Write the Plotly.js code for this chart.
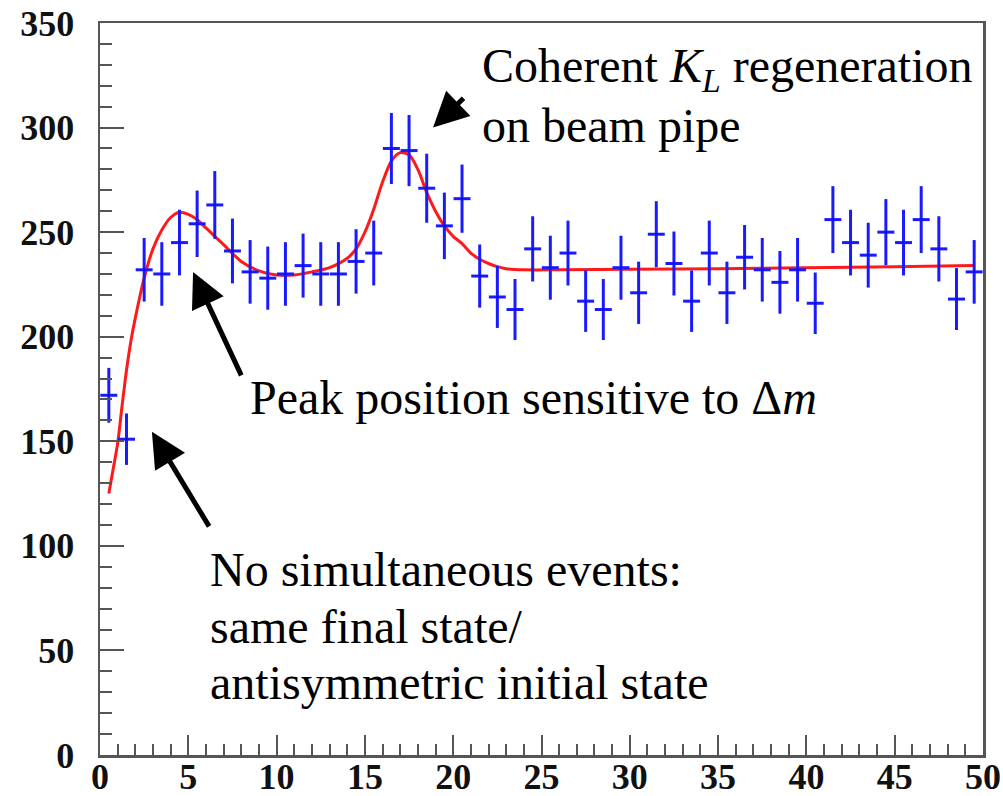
<!DOCTYPE html>
<html>
<head>
<meta charset="utf-8">
<script src="https://cdn.plot.ly/plotly-3.0.1.min.js"></script>
<style>html,body{margin:0;padding:0;background:#fff;}#chart{width:1003px;height:796px;}</style>
</head>
<body>
<div id="chart"></div>
<script>
// Bin centres (time difference bins)
var binCenters = [0.5,1.5,2.5,3.5,4.5,5.5,6.5,7.5,8.5,9.5,10.5,11.5,12.5,13.5,14.5,15.5,16.5,17.5,18.5,19.5,
  20.5,21.5,22.5,23.5,24.5,25.5,26.5,27.5,28.5,29.5,30.5,31.5,32.5,33.5,34.5,35.5,36.5,37.5,38.5,39.5,
  40.5,41.5,42.5,43.5,44.5,45.5,46.5,47.5,48.5,49.5];
// Event counts per bin
var counts = [172,151,232,230,245,254,263,241,231,228,230,234,230,230,236,240,290,289,271,253,
  266,229,219,213,242,233,240,217,213,233,221,249,235,217,240,221,238,232,226,232,
  216,256,245,239,250,245,256,242,218,231];
// Vertical error bars
var countErrors = [13.1,12.3,15.2,15.2,15.7,15.9,16.2,15.5,15.2,15.1,15.2,15.3,15.2,15.2,15.4,15.5,17.0,17.0,16.5,15.9,
  16.3,15.1,14.8,14.6,15.6,15.3,15.5,14.7,14.6,15.3,14.9,15.8,15.3,14.7,15.5,14.9,15.4,15.2,15.0,15.2,
  14.7,16.0,15.7,15.5,15.8,15.7,16.0,15.6,14.8,15.2];
// Fit curve
var fitX = [0.5,0.75,1,1.25,1.5,1.75,2,2.5,3,3.5,4,4.5,5,5.5,6,7,8,9,10,11,12,13,14,14.5,15,15.5,16,16.5,17,17.5,18,18.5,19,19.5,20,20.5,21,21.5,22,22.5,23,24,26,30,35,40,45,49.5];
var fitY = [125,137,149,167,184,198,209,228,242,251,257,259.5,258.5,256,252,244,236,231.5,229.5,229.5,231,233,237.5,242,250,261,274,284,288,287,280,269,260,253,248,244.5,240,237,235,233.5,232.5,232,232,232.3,232.5,233,233.5,234];
var xTickVals = [0,5,10,15,20,25,30,35,40,45,50];
var yTickVals = [0,50,100,150,200,250,300,350];

var dataTrace = {
  x: binCenters, y: counts, type: 'scatter', mode: 'markers',
  marker: {size: 2, color: '#0000ff'},
  error_x: {type: 'constant', value: 0.48, width: 0, thickness: 3, color: '#1a1aff'},
  error_y: {type: 'data', array: countErrors, visible: true, width: 0, thickness: 3, color: '#1a1aff'},
  hoverinfo: 'skip', showlegend: false
};
var fitTrace = {
  x: fitX, y: fitY, type: 'scatter', mode: 'lines',
  line: {color: '#ff1a1a', width: 3, shape: 'spline', smoothing: 0.8},
  hoverinfo: 'skip', showlegend: false
};

function txt(t, x, y) {
  return {text: t, x: x, y: y, xref: 'x', yref: 'y', showarrow: false, xanchor: 'left', yanchor: 'middle',
    font: {family: 'Liberation Serif', size: 48, color: '#000'}};
}
function arr(x, y, ax, ay) {
  return {text: '', x: x, y: y, ax: ax, ay: ay, xref: 'x', yref: 'y', axref: 'x', ayref: 'y',
    showarrow: true, arrowhead: 2, arrowsize: 1.4, arrowwidth: 5, arrowcolor: '#000', standoff: 0, startstandoff: 0};
}

var layout = {
  width: 1003, height: 796,
  margin: {l: 100, r: 20, t: 23, b: 41},
  paper_bgcolor: '#fff', plot_bgcolor: '#fff',
  showlegend: false,
  xaxis: {
    range: [0, 50], tickvals: xTickVals, ticktext: xTickVals.map(String),
    ticks: 'inside', ticklen: 20, tickwidth: 2, tickcolor: '#555',
    minor: {dtick: 1, ticks: 'inside', ticklen: 11, tickwidth: 2, tickcolor: '#555', showgrid: false},
    showgrid: false, zeroline: false,
    showline: true, linecolor: '#555', linewidth: 2.5, mirror: true,
    tickfont: {family: 'Liberation Serif', size: 36, color: '#111', weight: 'bold'},
    ticklabelstandoff: -12
  },
  yaxis: {
    range: [0, 350], tickvals: yTickVals, ticktext: yTickVals.map(String),
    ticks: 'inside', ticklen: 24, tickwidth: 2, tickcolor: '#555',
    minor: {dtick: 10, ticks: 'inside', ticklen: 12, tickwidth: 2, tickcolor: '#555', showgrid: false},
    showgrid: false, zeroline: false,
    showline: true, linecolor: '#555', linewidth: 2.5, mirror: true,
    tickfont: {family: 'Liberation Serif', size: 36, color: '#111', weight: 'bold'},
    ticklabelstandoff: 16
  },
  annotations: [
    txt('Coherent <i>K</i><sub><i>L</i></sub> regeneration', 21.5, 328),
    txt('on beam pipe', 21.5, 301),
    txt('Peak position sensitive to Δ<i>m</i>', 8.4, 171),
    txt('No simultaneous events:', 6.1, 88.5),
    txt('same final state/', 6.1, 61.5),
    txt('antisymmetric initial state', 6.1, 34.5),
    arr(18.86, 300, 20.67, 314.7),
    arr(5.27, 231, 8.04, 180.8),
    arr(2.94, 154.5, 6.23, 108.6)
  ]
};
Plotly.newPlot('chart', [fitTrace, dataTrace], layout, {displayModeBar: false, staticPlot: true});
</script>
</body>
</html>
